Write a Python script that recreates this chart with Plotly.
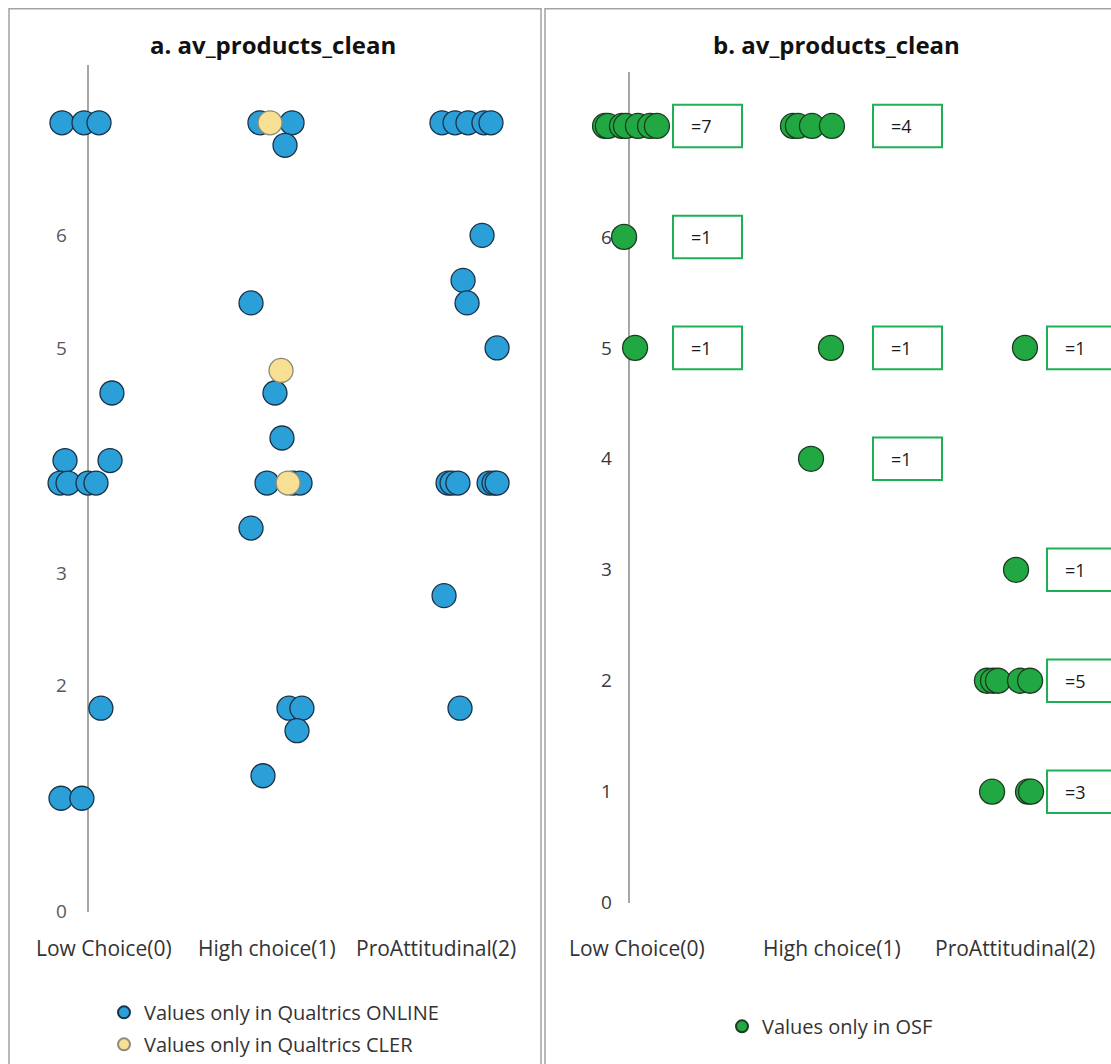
import plotly.graph_objects as go

W, H = 1111, 1064
# the captured picture comes out slightly compressed vertically; compensate
VSCALE = 0.987

# ---------------- data ----------------
categories = ["Low Choice(0)", "High choice(1)", "ProAttitudinal(2)"]
y_ticks = [0, 1, 2, 3, 4, 5, 6, 7]

# Panel a – values only in Qualtrics ONLINE (x = category index + jitter)
online_x = [-0.137, -0.021, 0.058, 0.126, -0.121, 0.116, -0.147, -0.105, 0.0, 0.042, 0.068, -0.142, -0.032,
            0.905, 1.074, 1.037, 0.858, 0.984, 1.021, 0.942, 1.079, 1.116, 0.858, 1.058, 1.126, 1.100, 0.921,
            1.863, 1.932, 2.000, 2.084, 2.121, 2.074, 1.974, 1.995, 2.153, 1.895, 1.916, 1.947, 2.111, 2.137, 2.153,
            1.874, 1.958]
online_y = [7.0, 7.0, 7.0, 4.6, 4.0, 4.0, 3.8, 3.8, 3.8, 3.8, 1.8, 1.0, 1.0,
            7.0, 7.0, 6.8, 5.4, 4.6, 4.2, 3.8, 3.8, 3.8, 3.4, 1.8, 1.8, 1.6, 1.2,
            7.0, 7.0, 7.0, 7.0, 7.0, 6.0, 5.6, 5.4, 5.0, 3.8, 3.8, 3.8, 3.8, 3.8, 3.8,
            2.8, 1.8]

# Panel a – values only in Qualtrics CLER
cler_x = [0.958, 1.016, 1.053]
cler_y = [7.0, 4.8, 3.8]

# Panel b – values only in OSF
osf_x = [-0.126, -0.111, -0.037, -0.016, 0.047, 0.111, 0.147, -0.026, 0.032,
         0.863, 0.889, 0.963, 1.068, 1.063, 0.958,
         2.084, 2.037, 1.884, 1.916, 1.942, 2.058, 2.111, 1.911, 2.100, 2.116]
osf_y = [7, 7, 7, 7, 7, 7, 7, 6, 5,
         7, 7, 7, 7, 5, 4,
         5, 3, 2, 2, 2, 2, 2, 1, 1, 1]

# Panel b – count boxes
box_cat = [0, 1, 0, 0, 1, 2, 1, 2, 2, 2]
box_val = [7, 7, 6, 5, 5, 5, 4, 3, 2, 1]
box_n = [7, 4, 1, 1, 1, 1, 1, 1, 5, 3]

# ---------------- style ----------------
FONT = "Open Sans, Lato, sans-serif"
BLUE, BLUE_LINE = "#2a9fd8", "#1b3246"
YELLOW, YELLOW_LINE = "#f7df94", "#8c8a78"
GREEN, GREEN_LINE = "#22a842", "#1c3b22"
BOX_GREEN = "#1fb055"
FRAME = "#a3a3a3"


def px_x(p):
    return p / W


def fy(p):
    """target picture y (px) -> figure y (px)"""
    return p / VSCALE


def px_y(p):
    return 1 - fy(p) / H


fig = go.Figure()

fig.add_trace(go.Scatter(
    x=online_x, y=online_y, mode="markers", name="Values only in Qualtrics ONLINE",
    xaxis="x", yaxis="y", cliponaxis=False, legend="legend", legendgroup="g1",
    marker=dict(size=24, color=BLUE, line=dict(color=BLUE_LINE, width=1.3)),
))
fig.add_trace(go.Scatter(
    x=cler_x, y=cler_y, mode="markers", name="Values only in Qualtrics CLER",
    xaxis="x", yaxis="y", cliponaxis=False, legend="legend", legendgroup="g2",
    marker=dict(size=24, color=YELLOW, line=dict(color=YELLOW_LINE, width=1.3)),
))
fig.add_trace(go.Scatter(
    x=osf_x, y=osf_y, mode="markers", name="Values only in OSF",
    xaxis="x2", yaxis="y2", cliponaxis=False, legend="legend2",
    marker=dict(size=25, color=GREEN, line=dict(color=GREEN_LINE, width=1.3)),
))

# axes geometry (target picture pixels)
a_x0_px, a_unit_x = 88, 190
a_y0_px, a_unit_y = 911, 112.6
b_x0_px, b_unit_x = 629, 190
b_y0_px, b_unit_y = 903, 111
a_left, a_right, a_top, a_bot = 49, 535, 65, 912
b_left, b_right, b_top, b_bot = 594, W, 72, 903

common_x = dict(showgrid=False, showticklabels=False, ticks="", zeroline=True,
                zerolinecolor="#a6a6a6", zerolinewidth=1.5, showline=False, fixedrange=True)
common_y = dict(showgrid=False, zeroline=False, showline=False, ticks="", tickvals=y_ticks,
                layer="below traces", ticklabelposition="inside", ticklabelstandoff=4,
                ticklabeloverflow="allow", fixedrange=True)

fig.update_layout(
    width=W, height=H, margin=dict(l=0, r=0, t=0, b=0),
    paper_bgcolor="white", plot_bgcolor="white",
    font=dict(family=FONT, color="#404040"),
    xaxis=dict(domain=[px_x(a_left), px_x(a_right)],
               range=[(a_left - a_x0_px) / a_unit_x, (a_right - a_x0_px) / a_unit_x], anchor="y", **common_x),
    yaxis=dict(domain=[px_y(a_bot), px_y(a_top)],
               range=[(a_y0_px - a_bot) / a_unit_y, (a_y0_px - a_top) / a_unit_y], anchor="x",
               tickfont=dict(size=19, color="#595959", family=FONT), **common_y),
    xaxis2=dict(domain=[px_x(b_left), px_x(b_right)],
                range=[(b_left - b_x0_px) / b_unit_x, (b_right - b_x0_px) / b_unit_x], anchor="y2", **common_x),
    yaxis2=dict(domain=[px_y(b_bot), px_y(b_top)],
                range=[(b_y0_px - b_bot) / b_unit_y - 0.002, (b_y0_px - b_top) / b_unit_y], anchor="x2",
                tickfont=dict(size=19, color="#3a3a3a", family=FONT), **common_y),
    legend=dict(x=px_x(104), y=px_y(993), xanchor="left", yanchor="top",
                font=dict(size=20, color="#333333", family=FONT), itemsizing="constant",
                tracegroupgap=3, bgcolor="rgba(0,0,0,0)"),
    legend2=dict(x=px_x(722), y=px_y(1007), xanchor="left", yanchor="top",
                 font=dict(size=20, color="#333333", family=FONT), itemsizing="constant",
                 bgcolor="rgba(0,0,0,0)"),
    showlegend=True,
)

shapes = [
    dict(type="rect", xref="paper", yref="paper", x0=px_x(9), x1=px_x(541), y0=-0.02, y1=px_y(8.8),
         line=dict(color=FRAME, width=1.5), layer="below"),
    dict(type="rect", xref="paper", yref="paper", x0=px_x(545), x1=px_x(1140), y0=-0.02, y1=px_y(8.8),
         line=dict(color=FRAME, width=1.5), layer="below"),
]

box_offset_px = {0: 44, 1: 54, 2: 38}
half_h = 21 / VSCALE
annotations = []
for c, v, n in zip(box_cat, box_val, box_n):
    off = box_offset_px[c]
    shapes.append(dict(type="rect", xref="x2", yref="y2", xsizemode="pixel", ysizemode="pixel",
                       xanchor=c, yanchor=v, x0=off, x1=off + 69, y0=-half_h, y1=half_h,
                       line=dict(color=BOX_GREEN, width=2), fillcolor="white", layer="above"))
    annotations.append(dict(x=c, y=v, xref="x2", yref="y2", xanchor="left", yanchor="middle",
                            xshift=off + 16, showarrow=False, text=f"={n}",
                            font=dict(size=18, color="#1a1a1a", family=FONT)))

# category labels
cat_shift_a = [16, -11, -32]
cat_shift_b = [8, 13, 6]
for i, name in enumerate(categories):
    annotations.append(dict(x=i, y=px_y(948), xref="x", yref="paper", xshift=cat_shift_a[i],
                            showarrow=False, text=name, xanchor="center", yanchor="middle",
                            font=dict(size=21, color="#333333", family=FONT)))
    annotations.append(dict(x=i, y=px_y(948), xref="x2", yref="paper", xshift=cat_shift_b[i],
                            showarrow=False, text=name, xanchor="center", yanchor="middle",
                            font=dict(size=21, color="#333333", family=FONT)))

# titles
annotations.append(dict(x=px_x(273), y=px_y(45), xref="paper", yref="paper", showarrow=False,
                        text="<b>a. av_products_clean</b>", xanchor="center", yanchor="middle",
                        font=dict(size=24, color="#111111", family=FONT)))
annotations.append(dict(x=px_x(836), y=px_y(45), xref="paper", yref="paper", showarrow=False,
                        text="<b>b. av_products_clean</b>", xanchor="center", yanchor="middle",
                        font=dict(size=24, color="#111111", family=FONT)))

fig.update_layout(shapes=shapes, annotations=annotations)

# remove the default 8px body margin so the figure fills the window exactly
fig.write_html("out.html", config={"displayModeBar": False},
               post_script="document.body.style.margin='0';document.body.style.overflow='hidden';")
